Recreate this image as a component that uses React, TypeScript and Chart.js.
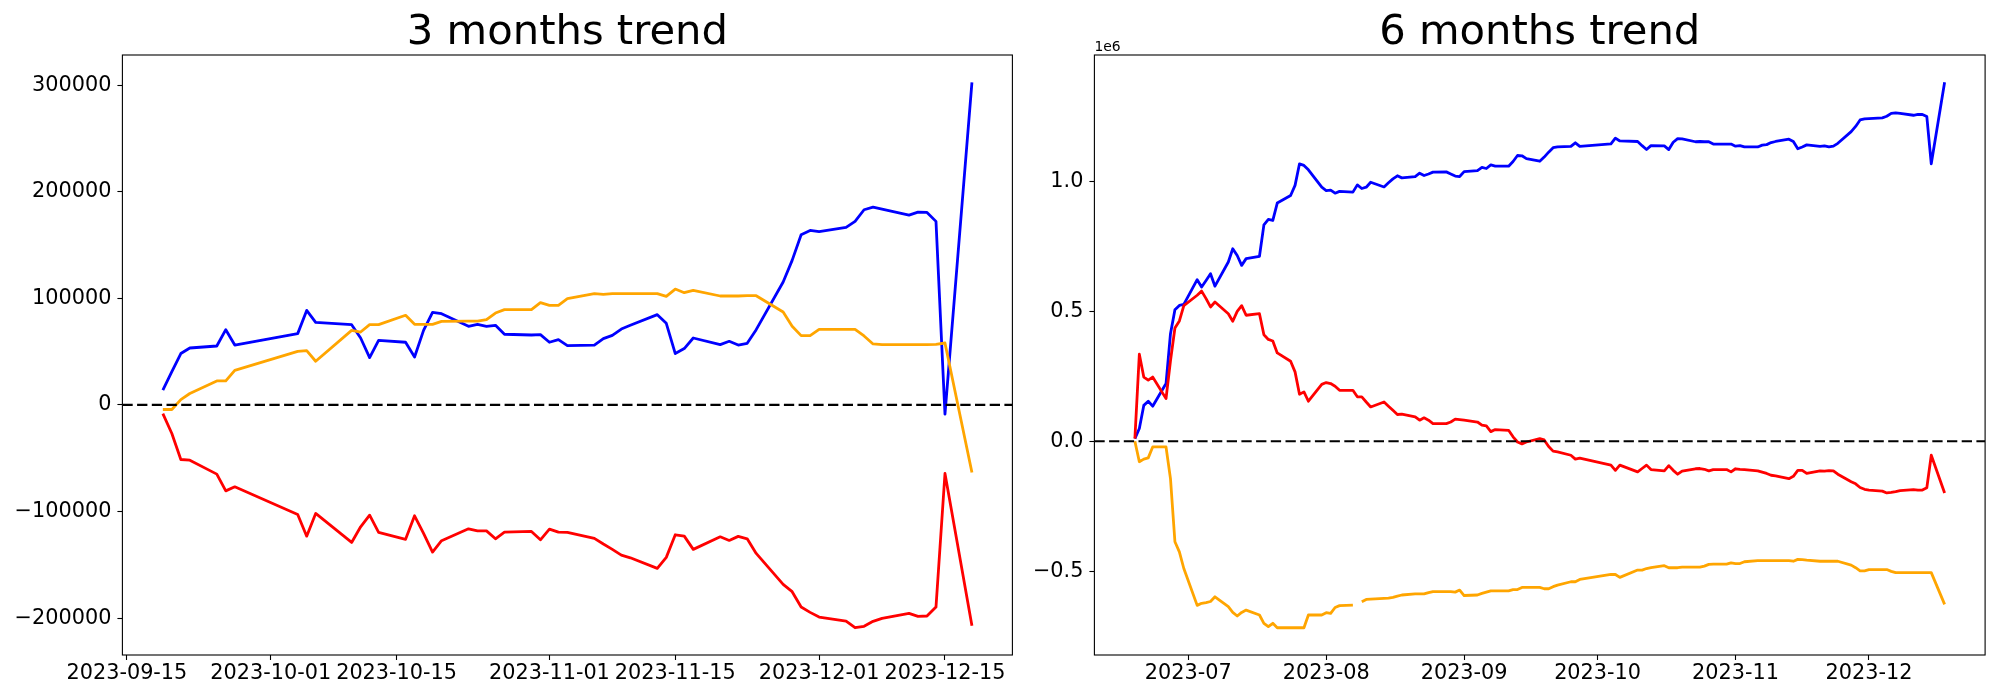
import React, { useEffect, useRef } from 'react';
import { Chart, registerables } from 'chart.js';
Chart.register(...registerables);

const FONT = 'DejaVu Sans';

// ---------- 3 months trend ----------
const dates3 = [
  '2023-09-19','2023-09-20','2023-09-21','2023-09-22','2023-09-25','2023-09-26','2023-09-27',
  '2023-10-04','2023-10-05','2023-10-06','2023-10-10','2023-10-11','2023-10-12','2023-10-13',
  '2023-10-16','2023-10-17','2023-10-18','2023-10-19','2023-10-20','2023-10-23','2023-10-24',
  '2023-10-25','2023-10-26','2023-10-27','2023-10-30','2023-10-31',
  '2023-11-01','2023-11-02','2023-11-03','2023-11-06','2023-11-07','2023-11-08','2023-11-09',
  '2023-11-10','2023-11-13','2023-11-14','2023-11-15','2023-11-16','2023-11-17','2023-11-20',
  '2023-11-21','2023-11-22','2023-11-23','2023-11-24','2023-11-27','2023-11-28','2023-11-29',
  '2023-11-30','2023-12-01','2023-12-04','2023-12-05','2023-12-06','2023-12-07','2023-12-08',
  '2023-12-11','2023-12-12','2023-12-13','2023-12-14','2023-12-15','2023-12-18',
];
const blue3 = [
  14000, 31300, 48200, 53400, 55300, 70600, 56200,
  66900, 88700, 77500, 75300, 62800, 44400, 60600,
  58800, 45000, 70000, 86900, 85600, 73800, 75600,
  73800, 74700, 66300, 65600, 66000,
  58800, 61300, 55600, 56200, 62200, 65300, 71200,
  74700, 84700, 76600, 48200, 52900, 62800, 56600,
  59700, 56200, 57800, 70600, 115300, 135600, 159700,
  163700, 162500, 166500, 172200, 183100, 185600, 183700,
  178100, 180900, 180600, 172200, -8700, 302700,
];
const red3 = [
  -8100, -26800, -51200, -51800, -64900, -80600, -76800,
  -102700, -123100, -101800, -129000, -114300, -103400, -119600,
  -126100, -104000, -120500, -138000, -127400, -116200, -118100,
  -118100, -125600, -119300, -118700, -126500,
  -116500, -119300, -119600, -125200, -130500, -135500, -140900,
  -143400, -153300, -143000, -121800, -123100, -135500, -123700,
  -127100, -123300, -125600, -139300, -168300, -175200, -189600,
  -194600, -199000, -202700, -209000, -207700, -203000, -200200,
  -195500, -198300, -198000, -189600, -64300, -207100,
];
const orange3 = [
  -4300, -4300, 5000, 10700, 22500, 22500, 32500,
  50300, 51000, 41000, 70000, 68400, 75300, 75300,
  84100, 75600, 75600, 75600, 78400, 78700, 78700,
  80000, 86200, 89400, 89400, 96000,
  93400, 93400, 99700, 104400, 103700, 104400, 104400,
  104400, 104400, 101900, 108700, 105300, 107500, 102200,
  102200, 102200, 102500, 102500, 87200, 73800, 65000,
  65000, 70900, 70900, 70900, 64700, 57200, 56600,
  56600, 56600, 56600, 56900, 58100, -63400,
];
const xTicks3 = ['2023-09-15','2023-10-01','2023-10-15','2023-11-01','2023-11-15','2023-12-01','2023-12-15'];
const xLabels3 = ['2023-09-15','2023-10-01','2023-10-15','2023-11-01','2023-11-15','2023-12-01','2023-12-15'];
const yTicks3 = [-200000, -100000, 0, 100000, 200000, 300000];

// ---------- 6 months trend ----------
const dates6 = [
  '2023-06-19','2023-06-20','2023-06-21','2023-06-22','2023-06-23','2023-06-26','2023-06-27','2023-06-28','2023-06-29','2023-06-30',
  '2023-07-03','2023-07-04','2023-07-05','2023-07-06','2023-07-07','2023-07-10','2023-07-11','2023-07-12','2023-07-13','2023-07-14',
  '2023-07-17','2023-07-18','2023-07-19','2023-07-20','2023-07-21','2023-07-24','2023-07-25','2023-07-26','2023-07-27','2023-07-28','2023-07-31',
  '2023-08-01','2023-08-02','2023-08-03','2023-08-04','2023-08-07','2023-08-08','2023-08-09','2023-08-10','2023-08-11','2023-08-14',
  '2023-08-15','2023-08-16','2023-08-17','2023-08-18','2023-08-21','2023-08-22','2023-08-23','2023-08-24','2023-08-25','2023-08-28',
  '2023-08-29','2023-08-30','2023-08-31',
  '2023-09-01','2023-09-04','2023-09-05','2023-09-06','2023-09-07','2023-09-08','2023-09-11','2023-09-12','2023-09-13','2023-09-14',
  '2023-09-15','2023-09-18','2023-09-19','2023-09-20','2023-09-21','2023-09-22','2023-09-25','2023-09-26','2023-09-27',
  '2023-10-04','2023-10-05','2023-10-06','2023-10-10','2023-10-11','2023-10-12','2023-10-13','2023-10-16','2023-10-17','2023-10-18',
  '2023-10-19','2023-10-20','2023-10-23','2023-10-24','2023-10-25','2023-10-26','2023-10-27','2023-10-30','2023-10-31',
  '2023-11-01','2023-11-02','2023-11-03','2023-11-06','2023-11-07','2023-11-08','2023-11-09','2023-11-10','2023-11-13','2023-11-14',
  '2023-11-15','2023-11-16','2023-11-17','2023-11-20','2023-11-21','2023-11-22','2023-11-23','2023-11-24','2023-11-27','2023-11-28',
  '2023-11-29','2023-11-30',
  '2023-12-01','2023-12-04','2023-12-05','2023-12-06','2023-12-07','2023-12-08','2023-12-11','2023-12-12','2023-12-13','2023-12-14',
  '2023-12-15','2023-12-18',
];
const blue6 = [
  10000, 49000, 138000, 154000, 135000, 222000, 414000, 506000, 523000, 527000,
  622000, 594000, 619000, 645000, 597000, 690000, 741000, 715000, 677000, 703000,
  712000, 833000, 854000, 850000, 917000, 946000, 985000, 1068000, 1062000, 1045000, 978000,
  965000, 967000, 955000, 962000, 959000, 987000, 973000, 978000, 997000, 979000,
  995000, 1010000, 1022000, 1014000, 1019000, 1032000, 1023000, 1029000, 1036000, 1037000,
  1029000, 1021000, 1019000,
  1038000, 1042000, 1054000, 1050000, 1064000, 1059000, 1059000, 1077000, 1100000, 1099000,
  1088000, 1078000, 1094000, 1113000, 1130000, 1133000, 1135000, 1149000, 1135000,
  1145000, 1167000, 1156000, 1154000, 1138000, 1123000, 1138000, 1137000, 1123000, 1151000,
  1165000, 1164000, 1153000, 1154000, 1153000, 1153000, 1144000, 1144000, 1144000,
  1136000, 1138000, 1133000, 1133000, 1140000, 1142000, 1150000, 1154000, 1163000, 1154000,
  1126000, 1133000, 1141000, 1135000, 1137000, 1133000, 1136000, 1147000, 1192000, 1212000,
  1237000, 1241000,
  1242000, 1245000, 1251000, 1262000, 1264000, 1262000, 1255000, 1258000, 1258000, 1250000,
  1068000, 1382000,
];
const red6 = [
  10000, 335000, 247000, 235000, 247000, 164000, 310000, 436000, 463000, 522000,
  562000, 578000, 549000, 517000, 536000, 491000, 462000, 500000, 522000, 485000,
  491000, 410000, 392000, 386000, 340000, 308000, 267000, 181000, 190000, 154000, 219000,
  226000, 222000, 212000, 196000, 196000, 171000, 171000, 151000, 132000, 151000,
  135000, 119000, 103000, 104000, 94000, 81000, 90000, 81000, 68000, 68000,
  74000, 85000, 83000,
  81000, 74000, 62000, 59000, 37000, 45000, 42000, 17000, -3000, -10000,
  -3000, 10000, 5000, -20000, -38000, -41000, -54000, -69000, -65000,
  -92000, -112000, -92000, -118000, -105000, -92000, -109000, -114000, -94000, -112000,
  -127000, -115000, -106000, -105000, -108000, -114000, -109000, -109000, -118000,
  -106000, -108000, -109000, -114000, -119000, -124000, -131000, -133000, -144000, -135000,
  -112000, -112000, -124000, -114000, -115000, -113000, -114000, -127000, -156000, -164000,
  -178000, -185000,
  -188000, -192000, -199000, -197000, -194000, -190000, -186000, -188000, -188000, -179000,
  -54000, -199000,
];
const orange6 = [
  0, -79000, -69000, -64000, -22000, -22000, -144000, -387000, -426000, -490000,
  -632000, -624000, -621000, -617000, -599000, -637000, -659000, -673000, -659000, -650000,
  -669000, -701000, -714000, -701000, -718000, -718000, -718000, -718000, -718000, -669000, -669000,
  -660000, -663000, -640000, -633000, -631000, null, -618000, -609000, -608000, -605000,
  -604000, -601000, -596000, -592000, -588000, -588000, -588000, -583000, -579000, -579000,
  -579000, -581000, -573000,
  -594000, -592000, -586000, -581000, -576000, -576000, -576000, -571000, -571000, -563000,
  -563000, -563000, -568000, -568000, -560000, -554000, -541000, -541000, -532000,
  -513000, -513000, -524000, -496000, -496000, -490000, -487000, -479000, -487000, -487000,
  -487000, -485000, -485000, -485000, -481000, -474000, -473000, -473000, -468000,
  -471000, -471000, -464000, -460000, -460000, -460000, -460000, -460000, -460000, -462000,
  -455000, -456000, -458000, -462000, -462000, -462000, -462000, -462000, -477000, -487000,
  -499000, -499000,
  -494000, -494000, -494000, -501000, -506000, -506000, -506000, -506000, -506000, -506000,
  -506000, -628000,
];
const xTicks6 = ['2023-07-01','2023-08-01','2023-09-01','2023-10-01','2023-11-01','2023-12-01'];
const xLabels6 = ['2023-07','2023-08','2023-09','2023-10','2023-11','2023-12'];
const yTicks6 = [-500000, 0, 500000, 1000000];

function dayNum(s: string): number {
  const [y, m, d] = s.split('-').map(Number);
  return Date.UTC(y, m - 1, d) / 86400000;
}

const MINUS = '\u2212';
const fmtInt = (v: number) => (v < 0 ? MINUS + Math.abs(v) : String(v));
const fmtE6 = (v: number) => {
  const s = (Math.abs(v) / 1e6).toFixed(1);
  return v < 0 ? MINUS + s : s;
};

const framePlugin = {
  id: 'frame',
  afterDraw(chart: any) {
    const { ctx, chartArea } = chart;
    ctx.save();
    ctx.strokeStyle = '#000';
    ctx.lineWidth = 1.1;
    ctx.strokeRect(chartArea.left, chartArea.top, chartArea.right - chartArea.left, chartArea.bottom - chartArea.top);
    ctx.restore();
  },
};

function offsetTextPlugin(text: string) {
  return {
    id: 'offsetText',
    afterDraw(chart: any) {
      const { ctx, chartArea } = chart;
      ctx.save();
      ctx.fillStyle = '#000';
      ctx.font = `13.9px "${FONT}"`;
      ctx.textAlign = 'left';
      ctx.textBaseline = 'alphabetic';
      ctx.fillText(text, chartArea.left, chartArea.top - 4);
      ctx.restore();
    },
  };
}

function buildConfig(p: any) {
  const xs = p.dates.map(dayNum);
  const x0 = Math.min(...xs);
  const x1 = Math.max(...xs);
  const xm = (x1 - x0) * 0.05;
  const xmin = x0 - xm;
  const xmax = x1 + xm;
  const all = [...p.blue, ...p.red, ...p.orange].filter((v: any) => v !== null);
  const y0 = Math.min(...all);
  const y1 = Math.max(...all);
  const ym = (y1 - y0) * 0.05;
  const mk = (vals: any[]) => vals.map((v, i) => ({ x: xs[i], y: v }));
  const tickFont = { family: FONT, size: 20.8 };
  const grid = { drawOnChartArea: false, drawTicks: true, tickLength: 5, tickWidth: 1.1, tickColor: '#000' };
  const plugins: any[] = [framePlugin];
  if (p.offsetText) plugins.push(offsetTextPlugin(p.offsetText));
  return {
    type: 'line',
    data: {
      datasets: [
        { data: mk(p.blue), borderColor: '#0000ff', order: 4 },
        { data: mk(p.red), borderColor: '#ff0000', order: 3 },
        { data: mk(p.orange), borderColor: '#ffa500', order: 2 },
        { data: [{ x: xmin, y: 0 }, { x: xmax, y: 0 }], borderColor: '#000', borderDash: [10.3, 4.4], borderWidth: 2.2, order: 1 },
      ],
    },
    options: {
      responsive: false,
      animation: false,
      events: [],
      layout: { padding: { left: 0, right: p.padRight, top: 0, bottom: 0 } },
      elements: {
        point: { radius: 0 },
        line: { borderWidth: 2.8, tension: 0, borderJoinStyle: 'round', fill: false },
      },
      plugins: {
        legend: { display: false },
        tooltip: { enabled: false },
        title: {
          display: true,
          text: p.title,
          fullSize: false,
          color: '#000',
          font: { family: FONT, size: 41.7, weight: 'normal', lineHeight: 1 },
          padding: { top: 12.75, bottom: 0.55 },
        },
      },
      scales: {
        x: {
          type: 'linear',
          min: xmin,
          max: xmax,
          afterBuildTicks: (axis: any) => {
            axis.ticks = p.xTicks.map((s: string) => ({ value: dayNum(s) }));
          },
          afterFit: (axis: any) => {
            axis.height = 45;
          },
          ticks: {
            autoSkip: false,
            maxRotation: 0,
            minRotation: 0,
            padding: 1,
            color: '#000',
            font: tickFont,
            callback: (_v: any, i: number) => p.xLabels[i],
          },
          grid,
          border: { display: false },
        },
        y: {
          type: 'linear',
          min: y0 - ym,
          max: y1 + ym,
          afterBuildTicks: (axis: any) => {
            axis.ticks = p.yTicks.map((v: number) => ({ value: v }));
          },
          afterFit: (axis: any) => {
            axis.width = p.yWidth;
          },
          ticks: {
            autoSkip: false,
            padding: 6,
            color: '#000',
            font: tickFont,
            callback: (v: any) => p.yFmt(v),
          },
          grid,
          border: { display: false },
        },
      },
    },
    plugins,
  };
}

export default function App() {
  const ref3 = useRef<HTMLCanvasElement>(null);
  const ref6 = useRef<HTMLCanvasElement>(null);
  useEffect(() => {
    const c1 = new Chart(ref3.current as HTMLCanvasElement, buildConfig({
      title: '3 months trend', dates: dates3, blue: blue3, red: red3, orange: orange3,
      xTicks: xTicks3, xLabels: xLabels3, yTicks: yTicks3, yFmt: fmtInt,
      yWidth: 122.4, padRight: 7.6,
    }) as any);
    const c2 = new Chart(ref6.current as HTMLCanvasElement, buildConfig({
      title: '6 months trend', dates: dates6, blue: blue6, red: red6, orange: orange6,
      xTicks: xTicks6, xLabels: xLabels6, yTicks: yTicks6, yFmt: fmtE6,
      yWidth: 74.4, padRight: 14.9, offsetText: '1e6',
    }) as any);
    return () => {
      c1.destroy();
      c2.destroy();
    };
  }, []);
  return (
    <div style={{ position: 'absolute', left: 0, top: 0, width: 2000, height: 700, background: '#fff' }}>
      <canvas ref={ref3} width={1020} height={700} style={{ position: 'absolute', left: 0, top: 0 }} />
      <canvas ref={ref6} width={980} height={700} style={{ position: 'absolute', left: 1020, top: 0 }} />
    </div>
  );
}
